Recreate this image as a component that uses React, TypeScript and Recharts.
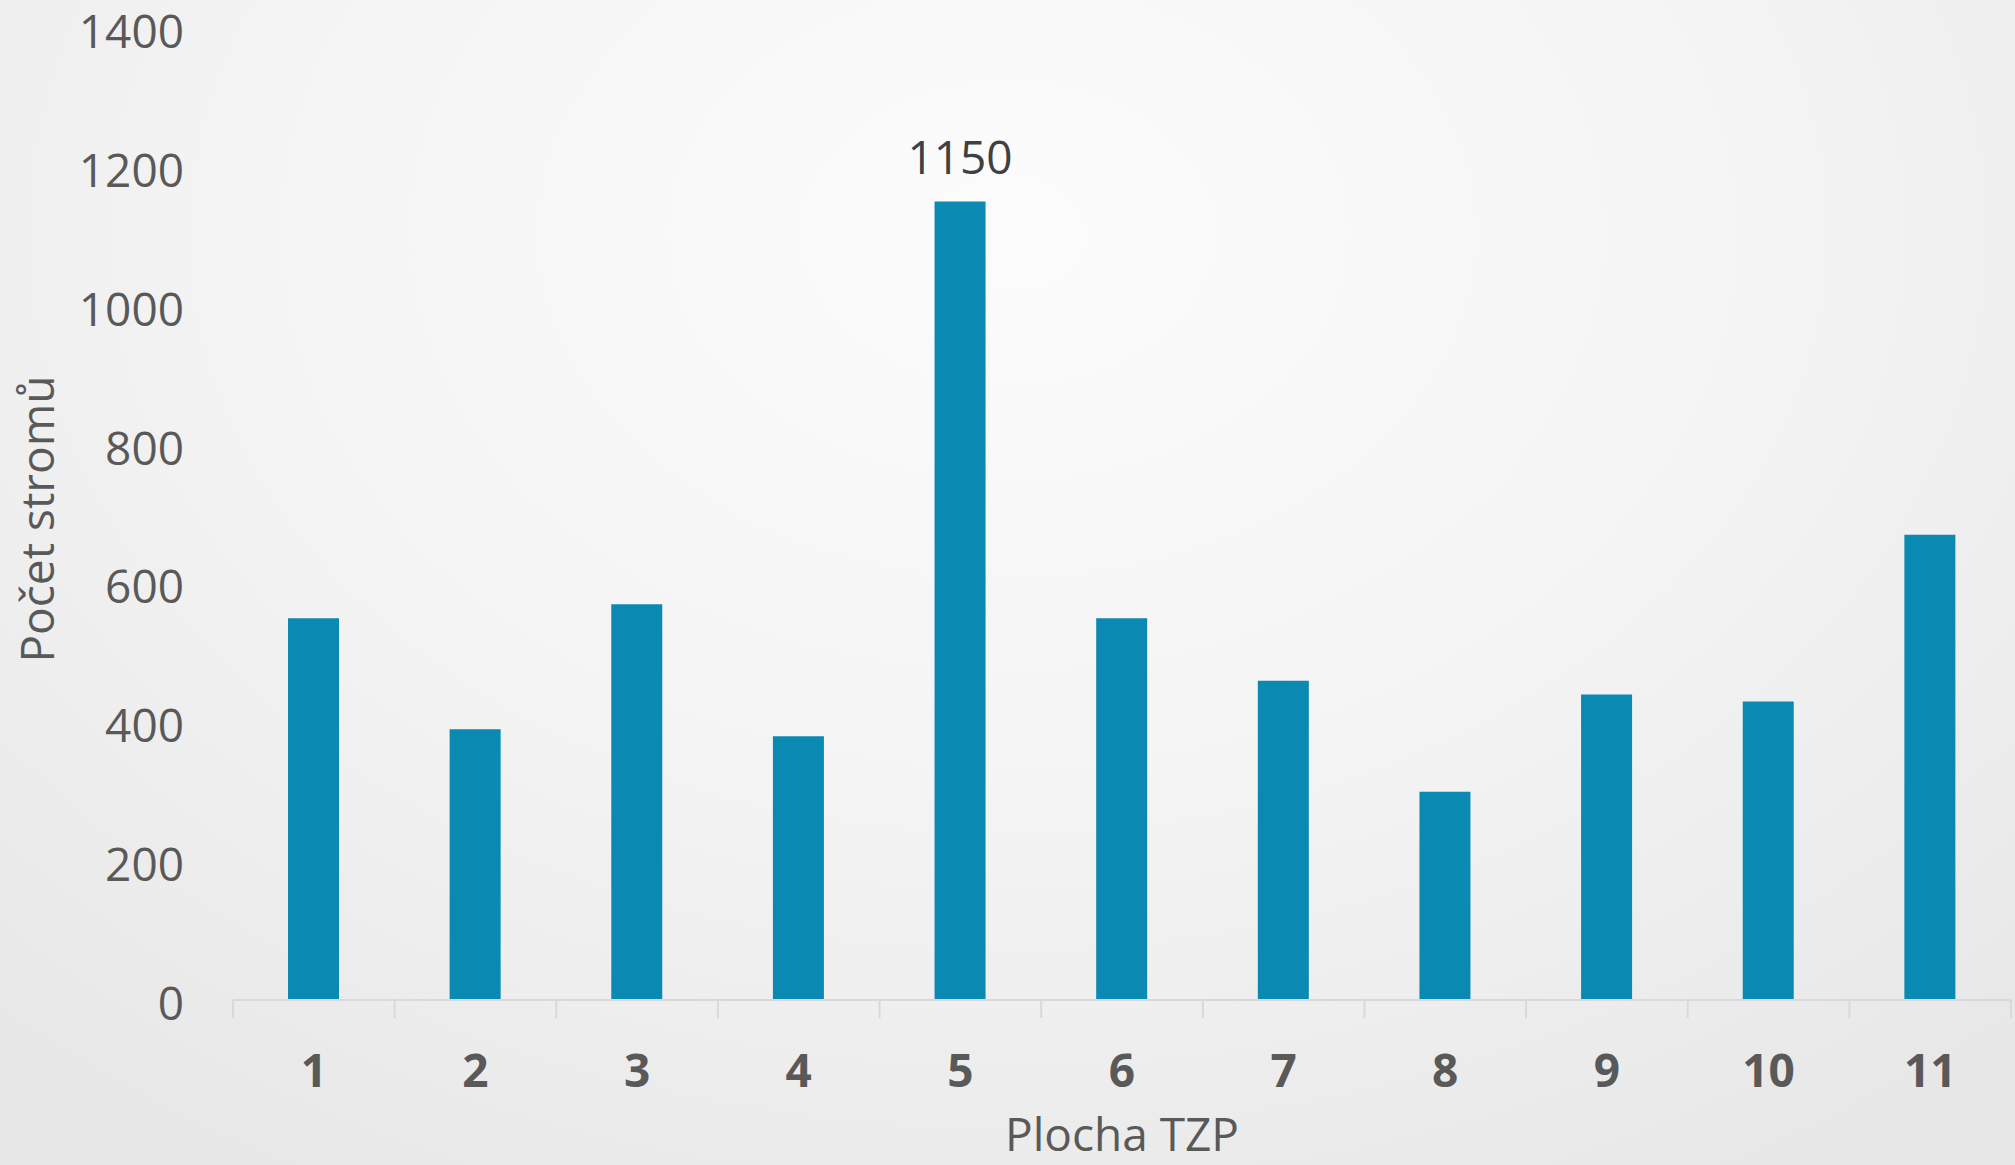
import React from 'react';
import { BarChart, Bar, XAxis, YAxis, LabelList, Label } from 'recharts';

const categories = ['1', '2', '3', '4', '5', '6', '7', '8', '9', '10', '11'];
const values = [550, 390, 570, 380, 1150, 550, 460, 300, 440, 430, 670];
const dataLabels = [null, null, null, null, 1150, null, null, null, null, null, null];
const yTicks = [0, 200, 400, 600, 800, 1000, 1200, 1400];

const data = categories.map((c, i) => ({ name: c, value: values[i], label: dataLabels[i] }));

const FONT = '"Open Sans", "Noto Sans", sans-serif';
const AXIS_GRAY = '#d9d9d9';

const XTick = (props: any) => {
  const { x, y, payload, index, visibleTicksCount } = props;
  const off = payload.offset || 0;
  const isLast = index === visibleTicksCount - 1;
  return (
    <g>
      <line x1={x - off} x2={x - off} y1={y} y2={y + 18} stroke={AXIS_GRAY} strokeWidth={2} />
      {isLast && <line x1={x + off} x2={x + off} y1={y} y2={y + 18} stroke={AXIS_GRAY} strokeWidth={2} />}
      <text x={x} y={y + 69} textAnchor="middle" dominantBaseline="central" fill="#595959" fontFamily={FONT} fontWeight={700} fontSize={46}>
        {payload.value}
      </text>
    </g>
  );
};

const YTick = (props: any) => {
  const { x, y, payload } = props;
  return (
    <text x={x} y={y + 2} textAnchor="end" dominantBaseline="central" fill="#595959" fontFamily={FONT} fontSize={46}>
      {payload.value}
    </text>
  );
};

const YTitle = (props: any) => {
  const vb = props.viewBox;
  const cx = vb.x + 36;
  const cy = vb.y + vb.height / 2 + 5;
  return (
    <text x={cx} y={cy} transform={`rotate(-90 ${cx} ${cy})`} textAnchor="middle" dominantBaseline="central" fill="#595959" fontFamily={FONT} fontSize={46}>
      Počet stromů
    </text>
  );
};

const XTitle = (props: any) => {
  const vb = props.viewBox;
  const cx = vb.x + vb.width / 2;
  const cy = vb.y + 133;
  return (
    <text x={cx} y={cy} textAnchor="middle" dominantBaseline="central" fill="#595959" fontFamily={FONT} fontSize={46}>
      Plocha TZP
    </text>
  );
};

export default function App() {
  return (
    <div
      style={{
        position: 'absolute',
        left: 0,
        top: 0,
        width: 2015,
        height: 1165,
        background: 'radial-gradient(ellipse 75% 95% at 50% 20%, #fcfcfc 0%, #f4f4f4 50%, #e7e7e7 100%)',
      }}
    >
      <BarChart width={2015} height={1165} data={data} margin={{ top: 28, right: 4, left: 0, bottom: 0 }}>
        <XAxis
          dataKey="name"
          height={165}
          axisLine={{ stroke: AXIS_GRAY, strokeWidth: 2 }}
          tickLine={false}
          tickSize={0}
          tickMargin={0}
          tick={<XTick />}
          interval={0}
        >
          <Label content={<XTitle />} />
        </XAxis>
        <YAxis
          width={233}
          domain={[0, 1400]}
          ticks={yTicks}
          interval={0}
          axisLine={false}
          tickLine={false}
          tickSize={0}
          tickMargin={49}
          tick={<YTick />}
        >
          <Label content={<YTitle />} />
        </YAxis>
        <Bar dataKey="value" fill="#0a89b3" barSize={51} isAnimationActive={false}>
          <LabelList dataKey="label" position="top" offset={28} fill="#404040" fontFamily={FONT} fontSize={46} />
        </Bar>
      </BarChart>
    </div>
  );
}
